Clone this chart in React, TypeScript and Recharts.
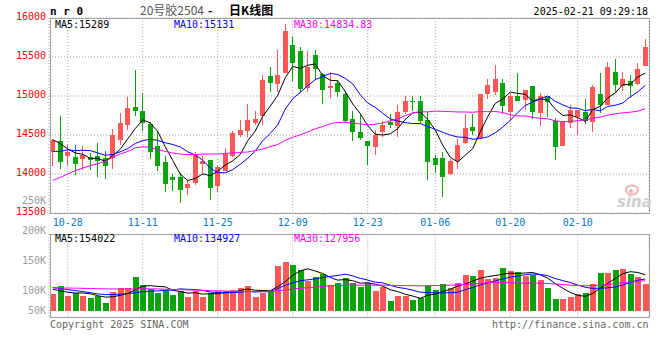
import { ComposedChart, Bar, Line, XAxis, YAxis, CartesianGrid } from "recharts"

const RED = "#ff5656"
const GREEN = "#0aa30a"
const GRID = "#a6a6a6"
const BORDER = "#a0a0a0"
const MONO = "'DejaVu Sans Mono', monospace"

const dates = [
  "10-24", "10-25", "10-28", "10-29", "10-30", "10-31", "11-01", "11-04", "11-05", "11-06",
  "11-07", "11-08", "11-11", "11-12", "11-13", "11-14", "11-15", "11-18", "11-19", "11-20",
  "11-21", "11-22", "11-25", "11-26", "11-27", "11-28", "11-29", "12-02", "12-03", "12-04",
  "12-05", "12-06", "12-09", "12-10", "12-11", "12-12", "12-13", "12-16", "12-17", "12-18",
  "12-19", "12-20", "12-23", "12-24", "12-25", "12-26", "12-27", "12-30", "12-31", "01-02",
  "01-03", "01-06", "01-07", "01-08", "01-09", "01-10", "01-13", "01-14", "01-15", "01-16",
  "01-17", "01-20", "01-21", "01-22", "01-23", "01-24", "01-27", "02-05", "02-06", "02-07",
  "02-10", "02-11", "02-12", "02-13", "02-14", "02-17", "02-18", "02-19", "02-20", "02-21",
]

const opens = [
  14290, 14427, 14226, 14222, 14192, 14213, 14226, 14205, 14205, 14440,
  14632, 14863, 14812, 14645, 14363, 14150, 13966, 13957, 13829, 13893,
  14119, 14175, 13842, 14043, 14226, 14504, 14560, 14654, 14739, 15261,
  15145, 15295, 15658, 15573, 15103, 15530, 15282, 15103, 15167, 15030,
  14709, 14538, 14419, 14355, 14547, 14667, 14611, 14795, 14940, 14940,
  14692, 14205, 14205, 13991, 14175, 14397, 14602, 14461, 15026, 15051,
  15167, 14795, 15004, 14953, 15124, 14791, 14996, 14684, 14363, 14654,
  14739, 14795, 14667, 15030, 14889, 15308, 15137, 15197, 15154, 15389,
]
const highs = [
  14455, 14740, 14385, 14376, 14355, 14269, 14397, 14290, 14581, 14778,
  14983, 15338, 15038, 14666, 14555, 14226, 14000, 14013, 13927, 14282,
  14226, 14180, 14098, 14333, 14547, 14696, 14897, 14803, 15265, 15368,
  15594, 15923, 15756, 15624, 15581, 15594, 15295, 15308, 15209, 15051,
  14812, 14761, 14419, 14568, 14684, 14769, 14880, 15000, 15000, 15000,
  14795, 14248, 14278, 14196, 14453, 14769, 14773, 15030, 15222, 15402,
  15222, 15038, 15295, 15081, 15124, 15038, 14996, 14718, 14684, 14889,
  14825, 14966, 15137, 15295, 15436, 15479, 15308, 15273, 15423, 15735,
]
const lows = [
  14100, 14068, 14120, 13991, 14055, 14055, 13957, 13940, 14068, 14367,
  14568, 14739, 14555, 14196, 14034, 13769, 13786, 13628, 13735, 13855,
  14013, 13662, 13769, 14034, 14213, 14470, 14470, 14624, 14624, 15051,
  15051, 15290, 15188, 15051, 15051, 15209, 14897, 14974, 14983, 14654,
  14419, 14440, 14111, 14239, 14470, 14590, 14470, 14769, 14803, 14654,
  13919, 14008, 13701, 13983, 14068, 14389, 14496, 14453, 14957, 15017,
  14773, 14675, 14932, 14825, 14705, 14611, 14726, 14184, 14355, 14590,
  14496, 14641, 14534, 14782, 14880, 15047, 15068, 14974, 15145, 15380,
]
const closes = [
  14440, 14162, 14278, 14137, 14248, 14175, 14162, 14098, 14496, 14658,
  14846, 14812, 14662, 14290, 14111, 13872, 13932, 13790, 13876, 14248,
  14162, 13812, 14090, 14256, 14526, 14568, 14696, 14709, 15201, 15175,
  15265, 15829, 15423, 15081, 15372, 15350, 15073, 15132, 15047, 14684,
  14547, 14461, 14355, 14504, 14632, 14624, 14795, 14940, 14927, 14684,
  14154, 14119, 13957, 14162, 14376, 14590, 14547, 15030, 15137, 15222,
  14867, 14996, 14944, 15081, 14791, 15004, 14923, 14355, 14684, 14825,
  14825, 14684, 15111, 14889, 15372, 15137, 15222, 15132, 15350, 15628,
]

const ma5 = [
  14440, 14390, 14320, 14270, 14253, 14200, 14200, 14164, 14236, 14318,
  14452, 14582, 14695, 14654, 14544, 14349, 14173, 13999, 13916, 13944,
  14002, 13978, 14038, 14114, 14169, 14250, 14427, 14551, 14740, 14870,
  15009, 15236, 15379, 15355, 15394, 15411, 15260, 15202, 15195, 15057,
  14897, 14774, 14619, 14510, 14500, 14515, 14582, 14699, 14784, 14794,
  14700, 14565, 14368, 14215, 14154, 14241, 14326, 14541, 14736, 14905,
  14961, 15050, 15033, 15022, 14936, 14963, 14949, 14831, 14751, 14758,
  14722, 14675, 14826, 14867, 14976, 15039, 15146, 15150, 15243, 15294,
]
const ma10 = [
  14290, 14290, 14310, 14300, 14305, 14300, 14270, 14240, 14250, 14285,
  14326, 14391, 14429, 14445, 14431, 14401, 14378, 14347, 14285, 14244,
  14176, 14076, 14018, 14015, 14056, 14126, 14202, 14294, 14427, 14520,
  14630, 14832, 14965, 15047, 15132, 15210, 15248, 15290, 15275, 15226,
  15154, 15017, 14910, 14853, 14779, 14706, 14678, 14659, 14647, 14647,
  14608, 14573, 14534, 14499, 14474, 14470, 14446, 14455, 14476, 14529,
  14601, 14688, 14787, 14879, 14921, 14962, 15000, 14932, 14887, 14847,
  14843, 14812, 14828, 14809, 14867, 14881, 14910, 14988, 15055, 15135,
]
const ma30 = [
  13919, 13957, 14000, 14043, 14077, 14107, 14132, 14162, 14214, 14256,
  14290, 14333, 14350, 14342, 14312, 14290, 14269, 14256, 14248, 14248,
  14256, 14256, 14256, 14265, 14269, 14278, 14282, 14300, 14320, 14350,
  14377, 14433, 14471, 14502, 14540, 14579, 14609, 14644, 14662, 14663,
  14653, 14642, 14631, 14638, 14656, 14681, 14709, 14748, 14783, 14798,
  14797, 14807, 14803, 14800, 14795, 14795, 14791, 14801, 14799, 14801,
  14788, 14759, 14744, 14744, 14725, 14713, 14708, 14682, 14670, 14674,
  14684, 14691, 14716, 14729, 14754, 14771, 14785, 14792, 14806, 14837,
]

const volumes = [
  71400, 105700, 62900, 74400, 64200, 55600, 62900, 34200, 80000, 95800,
  95800, 142900, 109900, 92800, 77000, 88600, 67200, 84300, 59900, 84300,
  59900, 74400, 85600, 85600, 88600, 98400, 105700, 59900, 77000, 84300,
  191200, 208300, 195500, 174100, 127100, 142900, 157000, 109900, 117200, 138600,
  119800, 102700, 119800, 84300, 100100, 41500, 62900, 62900, 45800, 53000,
  105700, 88600, 114200, 98400, 119800, 152700, 148400, 174100, 135600, 141200,
  182700, 169800, 165600, 148400, 151400, 131300, 98400, 50100, 50100, 59900,
  70200, 77000, 114200, 162600, 162600, 174100, 178400, 157000, 145500, 114200,
]
const volMa5 = [
  92000, 85000, 79000, 76000, 75720, 72560, 64000, 58260, 59380, 65700,
  73740, 89740, 104880, 107440, 103680, 102240, 87100, 81980, 75400, 76860,
  71120, 72560, 72820, 77960, 78820, 86520, 92780, 87640, 85920, 85060,
  103620, 124140, 151260, 170680, 179240, 169580, 159320, 142200, 130820, 133120,
  128500, 117640, 119620, 113040, 105340, 89680, 81720, 70340, 62640, 53220,
  66060, 71200, 81460, 91980, 105340, 114740, 126700, 138680, 146120, 150400,
  156400, 160680, 158980, 161540, 163580, 153300, 139020, 115920, 96260, 77960,
  65740, 61460, 74280, 96780, 117320, 138100, 158380, 166940, 163520, 153840,
]
const volMa10 = [
  99000, 95000, 90000, 86000, 82000, 77000, 72000, 69000, 69000, 70710,
  73150, 76870, 81570, 83410, 84690, 87990, 88420, 93430, 91420, 90270,
  86680, 79830, 77400, 76680, 77840, 78820, 82670, 80230, 81940, 81940,
  95070, 108460, 119450, 128300, 132150, 136600, 141730, 146730, 150750, 156180,
  149040, 138480, 130910, 121930, 119230, 109090, 99680, 94980, 87840, 79280,
  77870, 76460, 75900, 77310, 79280, 90400, 98950, 110070, 119050, 127870,
  135570, 143690, 148830, 153830, 156990, 154850, 149850, 137450, 128900, 120770,
  109520, 100240, 95100, 96520, 97640, 101920, 109920, 120610, 130150, 135580,
]
const volMa30 = [
  98000, 97500, 97000, 96500, 96000, 95000, 94000, 93500, 93000, 93000,
  93000, 93500, 94000, 93500, 93000, 92000, 91000, 90000, 89000, 88000,
  87000, 86000, 85000, 84000, 83000, 82500, 82000, 81500, 81000, 80970,
  84970, 88390, 92810, 96130, 98230, 101140, 104270, 106800, 108040, 109460,
  110260, 108920, 109250, 108970, 109740, 108170, 108030, 107310, 106840, 105800,
  107330, 107800, 108750, 109180, 110220, 112030, 113450, 117260, 119210, 121110,
  120830, 119540, 118550, 117690, 118500, 118110, 116160, 114170, 111930, 109310,
  107650, 106800, 106610, 109220, 111300, 115720, 119570, 122710, 126030, 128070,
]

const dateTicks = ["10-28", "11-11", "11-25", "12-09", "12-23", "01-06", "01-20", "02-10"]
const priceTicks = [13500, 14000, 14500, 15000, 15500, 16000]
const volGridTicks = [63000, 150000, 237000]
const volLabels = ["250K", "200K", "150K", "100K", "50K"]
const volLabelY = [204, 234, 264, 294, 314]

const rows = dates.map((date, i) => ({
  date,
  range: [lows[i], highs[i]],
  open: opens[i],
  high: highs[i],
  low: lows[i],
  close: closes[i],
  ma5: ma5[i],
  ma10: ma10[i],
  ma30: ma30[i],
  vol: volumes[i],
  vma5: volMa5[i],
  vma10: volMa10[i],
  vma30: volMa30[i],
}))

function Candle(props: any) {
  const { x, y, width, height, payload } = props
  const { open, close, high, low } = payload
  const color = close >= open ? RED : GREEN
  const k = high > low ? height / (high - low) : 0
  const yO = y + (high - open) * k
  const yC = y + (high - close) * k
  const left = Math.round(x)
  const w = Math.round(width)
  const cx = left + Math.floor(w / 2) + 0.5
  const top = Math.round(Math.min(yO, yC))
  const h = Math.max(1, Math.round(Math.abs(yO - yC)))
  return (
    <g>
      <line x1={cx} x2={cx} y1={Math.round(y)} y2={Math.round(y + height)} stroke={color} strokeWidth={1} />
      <rect x={left} y={top} width={w} height={h} fill={color} />
    </g>
  )
}

function VolBar(props: any) {
  const { x, y, width, height, payload } = props
  const top = Math.round(y)
  const bottom = Math.round(y + height)
  return (
    <rect
      x={Math.round(x)}
      y={top}
      width={Math.round(width)}
      height={Math.max(0, bottom - top)}
      fill={payload.close >= payload.open ? RED : GREEN}
    />
  )
}

function PriceTick(props: any) {
  const { x, y, payload } = props
  return (
    <text x={x} y={y + 2} textAnchor="end" fill="#ff0000" fontSize={10} fontFamily={MONO}>
      {payload.value}
    </text>
  )
}

function DateTick(props: any) {
  const { x, y, payload } = props
  return (
    <text x={x} y={y + 12.5} textAnchor="middle" fill="#0a78c8" fontSize={10} fontFamily={MONO}>
      {payload.value}
    </text>
  )
}

export default function App() {
  return (
    <div style={{ position: "absolute", left: 0, top: 0, width: 660, height: 360, background: "#fff", overflow: "hidden" }}>
      <div style={{ position: "absolute", left: -1, top: 0 }}>
        <ComposedChart width={660} height={230} data={rows} margin={{ top: 18, right: 10, bottom: 0, left: 0 }}>
          <CartesianGrid stroke={GRID} strokeDasharray="1 2" />
          <XAxis
            dataKey="date"
            ticks={dateTicks}
            interval={0}
            height={17}
            axisLine={false}
            tickLine={false}
            tickSize={0}
            tickMargin={0}
            tick={(p: any) => <DateTick {...p} />}
          />
          <YAxis
            domain={[13500, 16000]}
            ticks={priceTicks}
            interval={0}
            width={50}
            axisLine={false}
            tickLine={false}
            tickSize={0}
            tickMargin={3}
            allowDataOverflow
            tick={(p: any) => <PriceTick {...p} />}
          />
          <Bar dataKey="range" barSize={5} isAnimationActive={false} shape={(p: any) => <Candle {...p} />} />
          <Line dataKey="ma5" stroke="#000000" strokeWidth={1} dot={false} activeDot={false} isAnimationActive={false} />
          <Line dataKey="ma10" stroke="#0000ff" strokeWidth={1} dot={false} activeDot={false} isAnimationActive={false} />
          <Line dataKey="ma30" stroke="#ff00ff" strokeWidth={1} dot={false} activeDot={false} isAnimationActive={false} />
        </ComposedChart>
      </div>

      <div style={{ position: "absolute", left: -1, top: 222 }}>
        <ComposedChart width={660} height={100} data={rows} margin={{ top: 12.5, right: 10, bottom: 4.7, left: 0 }}>
          <CartesianGrid stroke={GRID} strokeDasharray="1 2" />
          <XAxis dataKey="date" ticks={dateTicks} interval={0} hide />
          <YAxis
            domain={[-28200, 326000]}
            ticks={volGridTicks}
            interval={0}
            width={50}
            axisLine={false}
            tickLine={false}
            tick={false}
            allowDataOverflow
          />
          <Bar dataKey="vol" barSize={6} isAnimationActive={false} shape={(p: any) => <VolBar {...p} />} />
          <Line dataKey="vma5" stroke="#000000" strokeWidth={1} dot={false} activeDot={false} isAnimationActive={false} />
          <Line dataKey="vma10" stroke="#0000ff" strokeWidth={1} dot={false} activeDot={false} isAnimationActive={false} />
          <Line dataKey="vma30" stroke="#ff00ff" strokeWidth={1} dot={false} activeDot={false} isAnimationActive={false} />
        </ComposedChart>
      </div>

      <svg width={660} height={360} style={{ position: "absolute", left: 0, top: 0, pointerEvents: "none" }}>
        <rect x={50.5} y={18.5} width={599} height={195} fill="none" stroke={BORDER} />
        <rect x={50.5} y={234.5} width={599} height={83} fill="none" stroke={BORDER} />

        <text x={50} y={15} fontSize={11} fontWeight="bold" fontFamily={MONO} fill="#000">n r 0</text>
        <text x={140} y={15} fontSize={12} fontFamily="'Noto Sans CJK SC'" fill="#555">20号胶2504</text>
        <text x={208} y={15} fontSize={12} fontWeight="bold" fontFamily="'Noto Sans CJK SC'" fill="#000">-</text>
        <text x={229} y={15} fontSize={12} fontWeight="bold" fontFamily="'Noto Sans CJK SC'" fill="#000">日K线图</text>
        <text x={648} y={15} fontSize={10} fontFamily={MONO} fill="#000" textAnchor="end">2025-02-21 09:29:18</text>

        <text x={55} y={27.6} fontSize={10} fontFamily={MONO} fill="#000">MA5:15289</text>
        <text x={174} y={27.6} fontSize={10} fontFamily={MONO} fill="#0000ff">MA10:15131</text>
        <text x={294} y={27.6} fontSize={10} fontFamily={MONO} fill="#ff00ff">MA30:14834.83</text>

        <text x={55} y={242} fontSize={10} fontFamily={MONO} fill="#000">MA5:154022</text>
        <text x={174} y={242} fontSize={10} fontFamily={MONO} fill="#0000ff">MA10:134927</text>
        <text x={294} y={242} fontSize={10} fontFamily={MONO} fill="#ff00ff">MA30:127956</text>

        {volLabels.map((t, i) => (
          <text key={t} x={46} y={volLabelY[i]} fontSize={10} fontFamily={MONO} fill="#9a9a9a" textAnchor="end">{t}</text>
        ))}

        <text x={50} y={327.5} fontSize={10} fontFamily={MONO} fill="#666">Copyright 2025 SINA.COM</text>
        <text x={648.5} y={327.5} fontSize={10} fontFamily={MONO} fill="#666" textAnchor="end">http://finance.sina.com.cn</text>

        <ellipse cx={632} cy={190} rx={6} ry={4.5} fill="none" stroke="#f2b0b0" strokeWidth={2} />
        <circle cx={631} cy={191} r={2} fill="#f2b0b0" />
        <text x={617} y={207} fontSize={15} fontWeight="bold" fontStyle="italic" fontFamily="'DejaVu Sans'" fill="#cfcfcf">sina</text>
      </svg>
    </div>
  )
}
